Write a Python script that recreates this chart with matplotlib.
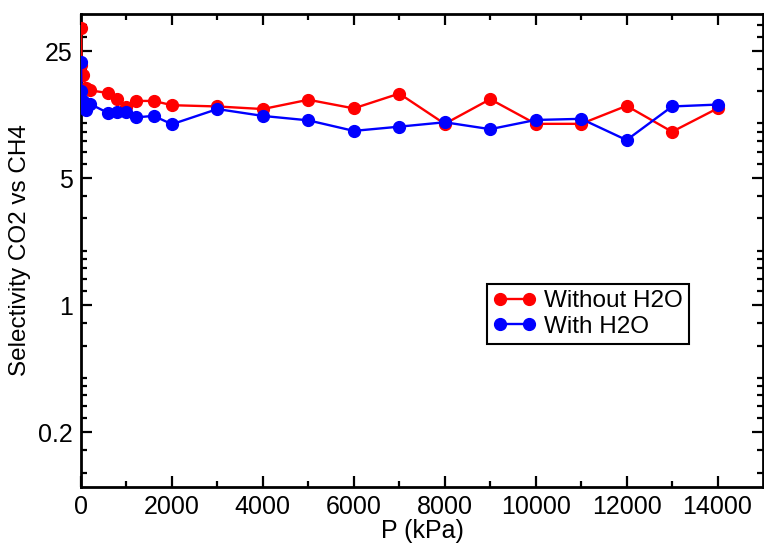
import matplotlib
matplotlib.use("Agg")
import matplotlib.pyplot as plt
from matplotlib.ticker import FixedLocator, NullFormatter, FixedFormatter
import numpy as np

plt.rcParams['font.family'] = ['Liberation Sans', 'DejaVu Sans']

pressure = [1, 10, 50, 100, 200, 600, 800, 1000, 1200, 1600, 2000, 3000, 4000,
            5000, 6000, 7000, 8000, 9000, 10000, 11000, 12000, 13000, 14000]
sel_without_h2o = [33.3, 21.0, 18.5, 15.7, 15.2, 14.7, 13.7, 12.3, 13.3, 13.3, 12.6,
                   12.4, 12.0, 13.5, 12.1, 14.6, 9.95, 13.6, 9.95, 9.95, 12.5, 9.0, 12.1]
sel_with_h2o = [21.9, 15.0, 13.3, 11.9, 12.8, 11.4, 11.5, 11.5, 10.8, 11.0, 9.9,
                12.0, 11.0, 10.4, 9.1, 9.6, 10.15, 9.3, 10.45, 10.6, 8.1, 12.4, 12.7]

x_major = [0, 2000, 4000, 6000, 8000, 10000, 12000, 14000]
x_minor = [1000, 3000, 5000, 7000, 9000, 11000, 13000]
y_major = [0.2, 1, 5, 25]
y_major_labels = ["0.2", "1", "5", "25"]
y_minor = [0.12, 0.16, 0.24, 0.28, 0.32, 0.36, 0.4, 0.6, 0.8,
           1.2, 1.4, 1.6, 1.8, 2, 3, 4,
           6, 7, 8, 9, 10, 15, 20, 30, 35]

fig = plt.figure(figsize=(7.64, 5.45), dpi=100)
ax = fig.add_axes([81/764, 1 - 487/545, 682/764, 473/545])

ax.plot(pressure, sel_without_h2o, '-o', color='#ff0000', lw=1.7, ms=8.5,
        label='Without H2O', zorder=3)
ax.plot(pressure, sel_with_h2o, '-o', color='#0000ff', lw=1.7, ms=8.5,
        label='With H2O', zorder=4)

ax.set_yscale('log')
ax.set_xlim(0, 15000)
ax.set_ylim(0.1, 40)

ax.xaxis.set_major_locator(FixedLocator(x_major))
ax.xaxis.set_minor_locator(FixedLocator(x_minor))
ax.yaxis.set_major_locator(FixedLocator(y_major))
ax.yaxis.set_major_formatter(FixedFormatter(y_major_labels))
ax.yaxis.set_minor_locator(FixedLocator(y_minor))
ax.yaxis.set_minor_formatter(NullFormatter())

ax.tick_params(which='both', direction='in', top=True, right=True, width=1.6,
               labelsize=18, colors='black')
ax.tick_params(which='major', length=8, pad=6)
ax.tick_params(which='minor', length=4)

for s in ax.spines.values():
    s.set_linewidth(2.0)
    s.set_color('black')

ax.set_xlabel('P (kPa)', fontsize=18, labelpad=0)
ax.set_ylabel('Selectivity CO2 vs CH4', fontsize=17.5, labelpad=5)

leg = ax.legend(loc='upper left', bbox_to_anchor=(0.595, 0.429), fontsize=17.5,
                numpoints=2, handlelength=1.8, handletextpad=0.3,
                borderpad=0.25, labelspacing=0.15, fancybox=False,
                edgecolor='black', framealpha=1, borderaxespad=0)
leg.get_frame().set_linewidth(1.5)

fig.savefig('out.png', dpi=100)
